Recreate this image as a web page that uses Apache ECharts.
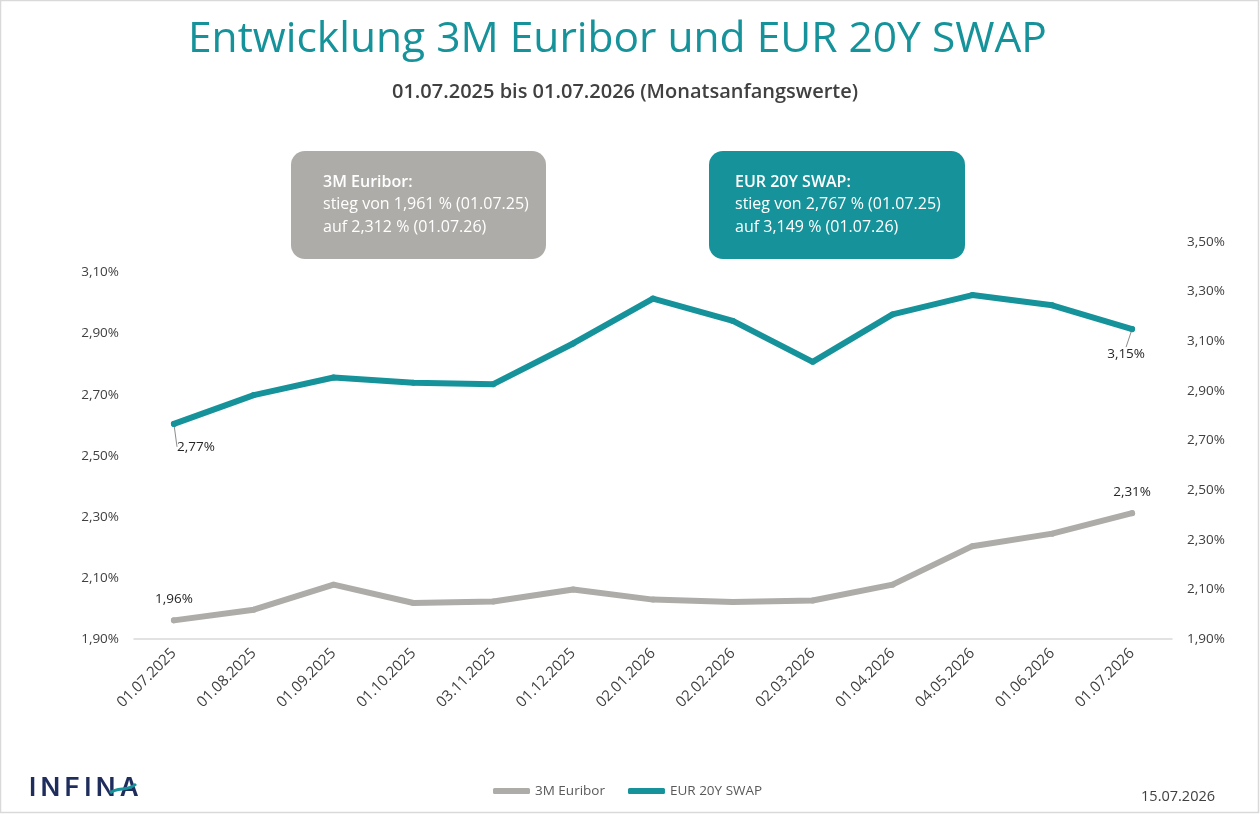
<!DOCTYPE html>
<html>
<head>
<meta charset="utf-8">
<title>Entwicklung 3M Euribor und EUR 20Y SWAP</title>
<script src="https://cdn.jsdelivr.net/npm/echarts@6/dist/echarts.min.js"></script>
<style>
  html, body { margin: 0; padding: 0; background: #fff; }
  #main { width: 1260px; height: 814px; }
</style>
</head>
<body>
<div id="main"></div>
<script>
// Stichtage (Monatsanfang)
var dates = ['01.07.2025', '01.08.2025', '01.09.2025', '01.10.2025', '03.11.2025', '01.12.2025',
             '02.01.2026', '02.02.2026', '02.03.2026', '01.04.2026', '04.05.2026', '01.06.2026', '01.07.2026'];
// 3M Euribor in % (linke Achse)
var euribor = [1.961, 1.996, 2.078, 2.018, 2.023, 2.062, 2.029, 2.021, 2.026, 2.078, 2.204, 2.245, 2.312];
// EUR 20Y SWAP in % (rechte Achse)
var swap = [2.767, 2.883, 2.954, 2.933, 2.927, 3.091, 3.272, 3.182, 3.017, 3.208, 3.286, 3.245, 3.149];
// Achsenbeschriftungen
var leftTicks = [1.9, 2.1, 2.3, 2.5, 2.7, 2.9, 3.1];
var rightTicks = [1.9, 2.1, 2.3, 2.5, 2.7, 2.9, 3.1, 3.3, 3.5];

var GRAY = '#aeaca8';
var TEAL = '#16939a';
var TXT = '#404040';

function pct(v){
	return v.toFixed(2).replace('.', ',') + '%';
}

var last = dates.length - 1;

//nur erster und letzter Punkt bekommen ein Label
var euriborData = euribor.map(function(v, i){
	if(i === 0 || i === last){
		return { value: v, label: { show: true, position: 'top', distance: 11 } };
	}
	return v;
});
var swapData = swap.map(function(v, i){
	if(i === 0 || i === last){
		return { value: v, label: { show: true, position: 'bottom', distance: 5 } };
	}
	return v;
});

var myChart = echarts.init(document.getElementById('main'));
var option = {
	backgroundColor: '#fff',
	animation: false,
	title: [
		{
			text: 'Entwicklung 3M Euribor und EUR 20Y SWAP',
			left: 183,
			top: 13,
			textStyle: { fontFamily: 'Open Sans', fontSize: 42.5, fontWeight: 'normal', color: TEAL }
		},
		{
			text: '01.07.2025 bis 01.07.2026 (Monatsanfangswerte)',
			left: 387,
			top: 77,
			textStyle: { fontFamily: 'Open Sans', fontSize: 20, fontWeight: 600, color: TXT }
		}
	],
	legend: {
		left: 488,
		top: 779,
		icon: 'roundRect',
		itemWidth: 37,
		itemHeight: 6,
		itemGap: 23,
		textStyle: { fontFamily: 'Open Sans', fontSize: 13.5, color: '#595959' },
		data: ['3M Euribor', 'EUR 20Y SWAP']
	},
	grid: { left: 134, right: 88, top: 242, bottom: 175 },
	xAxis: {
		type: 'category',
		data: dates,
		boundaryGap: true,
		axisLine: { show: true, lineStyle: { color: '#d9d9d9', width: 1.5 } },
		axisTick: { show: false },
		axisLabel: {
			rotate: 45,
			margin: 12,
			fontFamily: 'Open Sans',
			fontSize: 15,
			color: TXT
		},
		splitLine: { show: false }
	},
	yAxis: [
		{
			type: 'value',
			min: 1.9,
			max: 3.2,
			position: 'left',
			axisLine: { show: false },
			axisTick: { show: false },
			splitLine: { show: false },
			axisLabel: {
				customValues: leftTicks,
				margin: 15,
				fontFamily: 'Open Sans',
				fontSize: 13.5,
				color: TXT,
				formatter: pct
			}
		},
		{
			type: 'value',
			min: 1.9,
			max: 3.5,
			position: 'right',
			axisLine: { show: false },
			axisTick: { show: false },
			splitLine: { show: false },
			axisLabel: {
				customValues: rightTicks,
				margin: 15,
				fontFamily: 'Open Sans',
				fontSize: 13.5,
				color: TXT,
				formatter: pct
			}
		}
	],
	series: [
		{
			name: '3M Euribor',
			type: 'line',
			yAxisIndex: 0,
			data: euriborData,
			symbol: 'circle',
			symbolSize: 6,
			showSymbol: true,
			lineStyle: { color: GRAY, width: 6, cap: 'round', join: 'round' },
			itemStyle: { color: GRAY, borderWidth: 0 },
			label: {
				show: false,
				fontFamily: 'Open Sans',
				fontSize: 13.5,
				color: '#262626',
				formatter: function(p){ return pct(p.value); }
			},
			z: 2
		},
		{
			name: 'EUR 20Y SWAP',
			type: 'line',
			yAxisIndex: 1,
			data: swapData,
			symbol: 'circle',
			symbolSize: 6,
			showSymbol: true,
			lineStyle: { color: TEAL, width: 6, cap: 'round', join: 'round' },
			itemStyle: { color: TEAL, borderWidth: 0 },
			label: {
				show: false,
				fontFamily: 'Open Sans',
				fontSize: 13.5,
				color: '#262626',
				formatter: function(p){ return pct(p.value); }
			},
			labelLine: { show: true, lineStyle: { color: '#8c8c8c', width: 1 } },
			labelLayout: function(params){
				if(params.dataIndex === 0){
					return { dx: 22, dy: 8 };
				}
				return { dx: -6, dy: 10 };
			},
			z: 3
		}
	],
	graphic: [
		//Rahmen
		{
			type: 'rect',
			shape: { x: 0.5, y: 0.5, width: 1258, height: 812 },
			style: { fill: 'none', stroke: '#d9d9d9', lineWidth: 1.5 },
			silent: true
		},
		//Infobox Euribor
		{
			type: 'rect',
			shape: { x: 291, y: 151, width: 255, height: 108, r: 14 },
			style: { fill: GRAY }
		},
		{
			type: 'text', left: 323, top: 174,
			style: { text: '3M Euribor:', fill: '#fff', font: '600 16px "Open Sans"' }
		},
		{
			type: 'text', left: 323, top: 196,
			style: { text: 'stieg von 1,961 % (01.07.25)', fill: '#fff', font: '16px "Open Sans"' }
		},
		{
			type: 'text', left: 323, top: 219,
			style: { text: 'auf 2,312 % (01.07.26)', fill: '#fff', font: '16px "Open Sans"' }
		},
		//Infobox Swap
		{
			type: 'rect',
			shape: { x: 709, y: 151, width: 256, height: 108, r: 14 },
			style: { fill: TEAL }
		},
		{
			type: 'text', left: 735, top: 174,
			style: { text: 'EUR 20Y SWAP:', fill: '#fff', font: '600 16px "Open Sans"' }
		},
		{
			type: 'text', left: 735, top: 196,
			style: { text: 'stieg von 2,767 % (01.07.25)', fill: '#fff', font: '16px "Open Sans"' }
		},
		{
			type: 'text', left: 735, top: 219,
			style: { text: 'auf 3,149 % (01.07.26)', fill: '#fff', font: '16px "Open Sans"' }
		},
		//Logo
		{
			type: 'text', left: 29, top: 775,
			style: { text: 'I\u2009N\u2009F\u2009I\u2009N\u2009A', fill: '#1e2d5c', font: '600 26px "Inter"' }
		},
		{
			type: 'bezierCurve',
			shape: { x1: 110, y1: 793, x2: 136, y2: 784, cpx1: 118, cpy1: 786, cpx2: 127, cpy2: 792 },
			style: { stroke: TEAL, lineWidth: 3, fill: 'none' }
		},
		//Datum
		{
			type: 'text', right: 45, top: 789,
			style: { text: '15.07.2026', fill: TXT, font: '14.5px "Open Sans"' }
		}
	]
};
myChart.setOption(option);
</script>
</body>
</html>
